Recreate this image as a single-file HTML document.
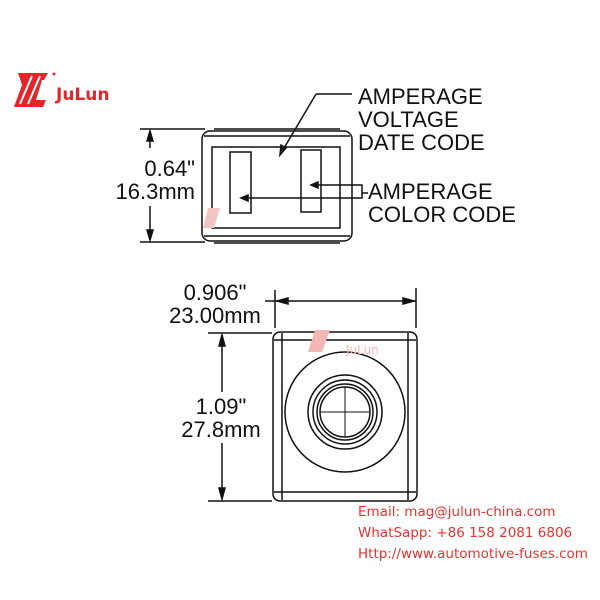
<!DOCTYPE html>
<html><head><style>
body{margin:0;background:#fff;width:600px;height:600px;overflow:hidden;position:relative;font-family:"Liberation Sans",Arial,sans-serif}
.t{position:absolute;color:#111;font-size:22px;line-height:23px}
.r{position:absolute;color:#e8322f;font-size:13.5px;line-height:17px;font-family:"DejaVu Sans","Liberation Sans",sans-serif}
</style></head><body>
<svg width="600" height="600" style="position:absolute;left:0;top:0" fill="none" stroke="#111" stroke-width="1.5">
<polygon points="18,73 48,73 44,80 30,80 42,80 36,100 46,100 43,107 14,107 22,85" fill="#e4262a" stroke="none"/>
<line x1="28" y1="104" x2="40" y2="76" stroke="#fff" stroke-width="2"/>
<line x1="20" y1="104" x2="32" y2="76" stroke="#fff" stroke-width="2"/>
<circle cx="54" cy="74" r="1.5" fill="#e4262a" stroke="none"/>
<rect x="202" y="131" width="150" height="110" rx="8"/>
<line x1="214" y1="129" x2="340" y2="129"/><line x1="214" y1="243" x2="340" y2="243"/>
<line x1="204" y1="136" x2="350" y2="136"/><line x1="204" y1="236" x2="350" y2="236"/>
<rect x="212" y="147" width="128" height="81"/>
<rect x="230" y="152" width="21" height="61"/>
<rect x="301" y="150" width="20" height="62"/>
<line x1="280" y1="155" x2="316" y2="94"/><line x1="316" y1="94" x2="352" y2="94"/>
<polygon points="280,155 281,145 286,148" fill="#111"/>
<polyline points="313,185 362,185 362,193 368,193"/>
<polyline points="243,198 362,198 362,193"/>
<polygon points="311,185 318,182 318,188" fill="#111"/><polygon points="241,198 248,195 248,201" fill="#111"/>
<line x1="140" y1="129" x2="205" y2="129"/><line x1="140" y1="242" x2="205" y2="242"/>
<line x1="150" y1="131" x2="150" y2="148"/><line x1="150" y1="206" x2="150" y2="240"/>
<polygon points="150,131 147,141 153,141" fill="#111"/><polygon points="150,240 147,230 153,230" fill="#111"/>
<line x1="275" y1="290" x2="275" y2="328"/><line x1="416" y1="288" x2="416" y2="328"/>
<line x1="265" y1="301" x2="416" y2="301"/>
<polygon points="277,301 288,298 288,304" fill="#111"/><polygon points="414,301 403,298 403,304" fill="#111"/>
<line x1="208" y1="333" x2="272" y2="333"/><line x1="208" y1="501" x2="272" y2="501"/>
<line x1="222" y1="335" x2="222" y2="392"/><line x1="222" y1="443" x2="222" y2="499"/>
<polygon points="222,335 219,346 225,346" fill="#111"/><polygon points="222,499 219,488 225,488" fill="#111"/>
<rect x="273" y="332" width="144" height="169" rx="7"/>
<line x1="282" y1="333" x2="282" y2="500"/><line x1="408" y1="333" x2="408" y2="500"/>
<line x1="274" y1="340" x2="416" y2="340"/><line x1="274" y1="492" x2="416" y2="492"/>
<circle cx="345" cy="412" r="60"/>
<circle cx="345" cy="412" r="37"/>
<circle cx="345" cy="412" r="32"/>
<circle cx="345" cy="412" r="28"/>
<circle cx="345" cy="412" r="25"/>
<line x1="320" y1="412" x2="370" y2="412" stroke-width="1"/><line x1="345" y1="387" x2="345" y2="437" stroke-width="1"/>
<polygon points="315,330 330,330 322,352 308,352" fill="#f4b5b5" stroke="none"/>
<polygon points="208,208 220,208 214,228 203,228" fill="#f4c5c5" stroke="none"/>
</svg>
<div class="r" style="left:56px;top:87px;font-size:17px;font-weight:bold;color:#e4262a;font-family:'DejaVu Sans',sans-serif">JuLun</div>
<div class="r" style="left:346px;top:342px;color:#f4b5b5;font-size:12px">JuLun</div>
<div class="t" style="left:358px;top:85px">AMPERAGE<br>VOLTAGE<br>DATE CODE</div>
<div class="t" style="left:368px;top:180px">AMPERAGE<br>COLOR CODE</div>
<div class="t" style="left:95px;top:157px;text-align:right;width:100px">0.64"<br>16.3mm</div>
<div class="t" style="left:160px;top:281px;text-align:center;width:110px">0.906"<br>23.00mm</div>
<div class="t" style="left:171px;top:395px;text-align:center;width:100px">1.09"<br>27.8mm</div>
<div class="r" style="left:358px;top:504px">Email: mag@julun-china.com</div>
<div class="r" style="left:358px;top:525px">WhatSapp: +86 158 2081 6806</div>
<div class="r" style="left:358px;top:546px">Http://www.automotive-fuses.com</div>
</body></html>
